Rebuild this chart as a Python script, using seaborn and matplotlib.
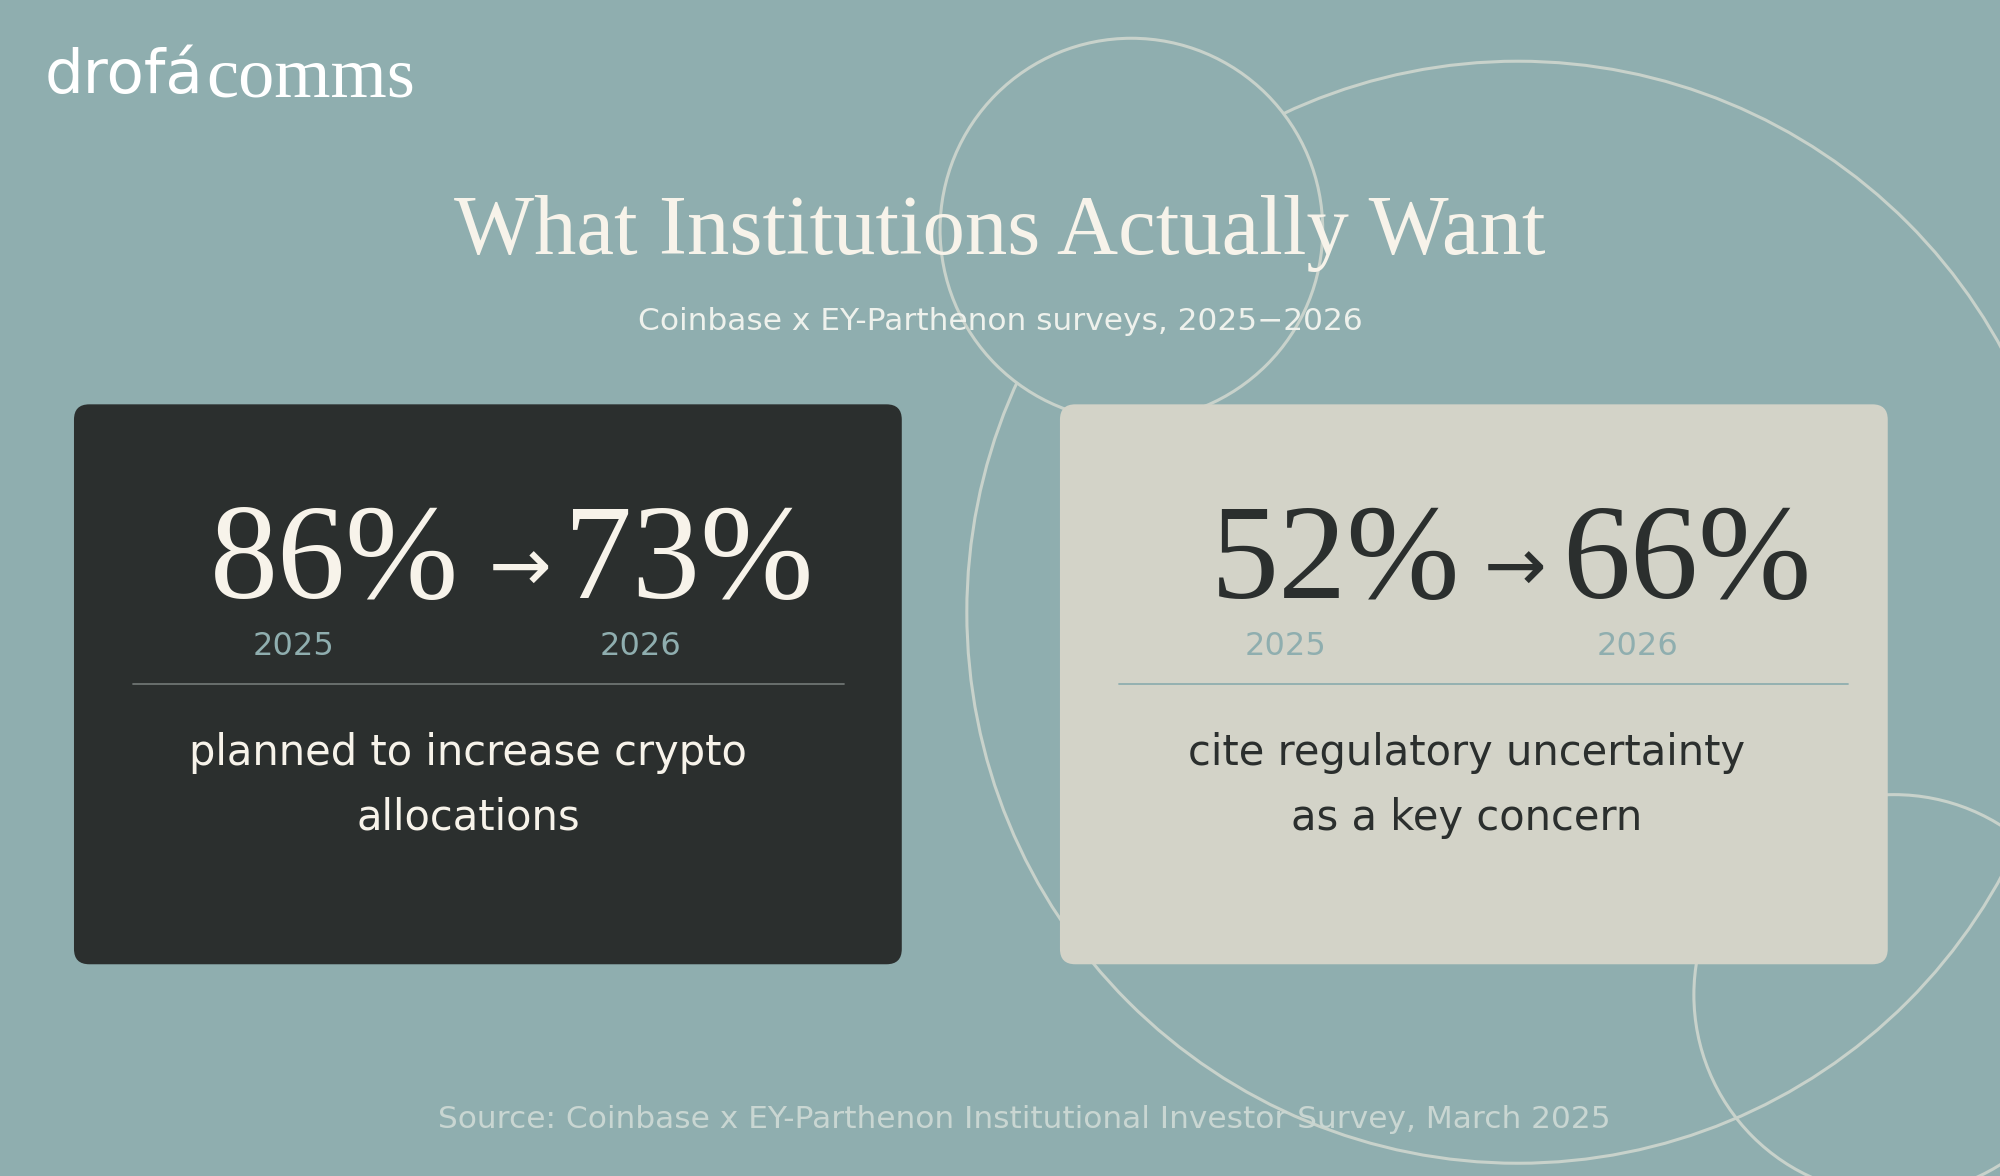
import matplotlib
matplotlib.use("Agg")
import matplotlib.pyplot as plt
import seaborn as sns
from matplotlib.patches import FancyBboxPatch, Circle

sns.set_theme(style="white")
plt.rcParams['font.family'] = ['DejaVu Sans']

title = "What Institutions Actually Want"
subtitle = "Coinbase x EY-Parthenon surveys, 2025\u22122026"
source = "Source: Coinbase x EY-Parthenon Institutional Investor Survey, March 2025"
years = ["2025", "2026"]
values_2025 = [86, 52]
values_2026 = [73, 66]
descriptions = [["planned to increase crypto", "allocations"],
                ["cite regulatory uncertainty", "as a key concern"]]

BG = "#8FAEAF"
W, H = 1568, 922
fig = plt.figure(figsize=(20, 11.76), dpi=100)
fig.patch.set_facecolor(BG)
ax = fig.add_axes([0, 0, 1, 1])
ax.set_xlim(0, W); ax.set_ylim(H, 0); ax.axis("off")
ax.set_facecolor(BG)

lc = "#C8D2CB"
ax.add_patch(Circle((1190, 480), 432, fill=False, ec=lc, lw=2.2, zorder=1))
ax.add_patch(Circle((887, 180), 150, fc=BG, ec=lc, lw=2.2, zorder=1.2))
ax.add_patch(Circle((1485, 780), 157, fill=False, ec=lc, lw=2.2, zorder=1.1))

ax.text(35, 60, "drofá", color="white", fontsize=44, va="center", ha="left", family="DejaVu Sans")
ax.text(162, 62, "comms", color="white", fontsize=52, va="center", ha="left", family="Liberation Serif")

ax.text(784, 183, title, color="#F7F3EA", fontsize=61, ha="center", va="center", family="Liberation Serif")
ax.text(784, 252, subtitle, color="#EEF1EC", fontsize=22.5, ha="center", va="center")

cards = [(58, "#2B2F2E", "#F7F3EA", "#F7F3EA", "#6E7472", 302, 350, 384, [230, 502]),
         (831, "#D3D3C8", "#2B2F2E", "#2B2F2E", "#8FAEAF", 314, 357, 394, [1008, 1284])]
for i, (x0, fc, numc, descc, linec, r1, ar, l2, yx) in enumerate(cards):
    ax.add_patch(FancyBboxPatch((x0, 317), 649, 439, boxstyle="round,pad=0,rounding_size=12",
                                fc=fc, ec="none", zorder=2))
    ax.text(x0 + r1, 443, f"{values_2025[i]}%", color=numc, fontsize=98,
            ha="right", va="center", family="Liberation Serif", zorder=3)
    ax.text(x0 + ar, 448, "\u2192", color=numc, fontsize=54,
            ha="center", va="center", family="DejaVu Sans", zorder=3)
    ax.text(x0 + l2, 443, f"{values_2026[i]}%", color=numc, fontsize=98,
            ha="left", va="center", family="Liberation Serif", zorder=3)
    for yy, lab in zip(yx, years):
        ax.text(yy, 507, lab, color="#8FAEAF", fontsize=23, ha="center", va="center", zorder=3)
    ax.plot([x0 + 46, x0 + 604 + (0 if i == 0 else 14)], [536, 536], color=linec, lw=1.3, zorder=3)
    for j, line in enumerate(descriptions[i]):
        ax.text(x0 + 309 + (0 if i == 0 else 10), 590 + 51 * j, line, color=descc, fontsize=30,
                ha="center", va="center", zorder=3)

ax.text(803, 878, source, color="#C9D6D2", fontsize=22.5, ha="center", va="center", zorder=3)

fig.savefig("out.png", dpi=100, facecolor=BG)
